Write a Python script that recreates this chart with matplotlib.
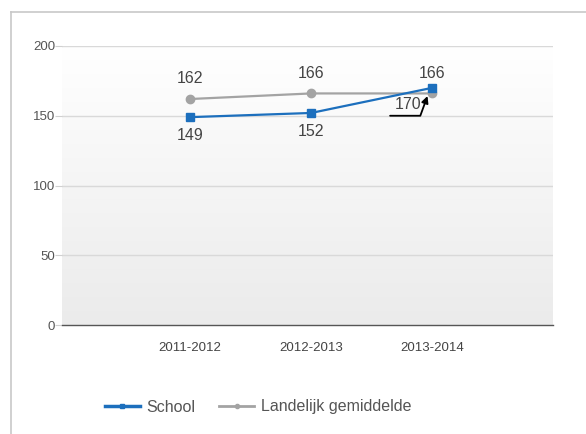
import matplotlib.pyplot as plt
import numpy as np
from matplotlib.lines import Line2D
from matplotlib.colors import LinearSegmentedColormap

plt.rcParams['font.family'] = ['Liberation Sans', 'DejaVu Sans']

jaren = ['2011-2012', '2012-2013', '2013-2014']
school = [149, 152, 170]
landelijk = [162, 166, 166]

blauw = '#1c6fbd'
grijs = '#a3a3a3'

fig = plt.figure(figsize=(5.86, 4.34), dpi=100)
ax = fig.add_axes([62/586, 1-325/434, (553-62)/586, (325-46)/434])

x = np.arange(len(jaren))

# achtergrond met verloop (boven wit, onder grijs)
grad = np.linspace(0, 1, 256).reshape(-1, 1)
cm = LinearSegmentedColormap.from_list('g', ['#ffffff', '#ebebeb'])
ax.imshow(grad, extent=(-1.06, 3.0, 0, 200), aspect='auto', origin='upper',
          cmap=cm, zorder=0)

for v in [50, 100, 150, 200]:
    ax.axhline(v, color='#d9d9d9', lw=1, zorder=1)

ax.plot(x, landelijk, color=grijs, lw=1.6, marker='o', ms=6, zorder=3)
ax.plot(x, school, color=blauw, lw=1.6, marker='s', ms=6, zorder=4)

fs = 11.5
for i in range(2):
    ax.text(x[i], landelijk[i] + 9, str(landelijk[i]), ha='center', va='bottom',
            fontsize=fs, color='#444444')
    ax.text(x[i], school[i] - 8, str(school[i]), ha='center', va='top',
            fontsize=fs, color='#444444')
ax.text(x[2], landelijk[2] + 9, str(landelijk[2]), ha='center', va='bottom',
        fontsize=fs, color='#444444')
ax.text(x[2] - 0.2, school[2] - 12, str(school[2]), ha='center', va='center',
        fontsize=fs, color='#444444', zorder=5)
ax.annotate('', xy=(x[2] - 0.03, school[2] - 4), xytext=(x[2] - 0.37, 150),
            arrowprops=dict(arrowstyle='-|>', color='black', lw=1.3,
                            connectionstyle='angle,angleA=0,angleB=70,rad=0'),
            zorder=6)

ax.set_xlim(-1.06, 3.0)
ax.set_ylim(0, 200)
ax.set_xticks(x)
ax.set_xticklabels(jaren, fontsize=9.5, color='#444444')
ax.set_yticks([0, 50, 100, 150, 200])
ax.tick_params(axis='y', length=5, color='#d0d0d0', labelsize=9.5, labelcolor='#555555', pad=0)
ax.tick_params(axis='x', length=0, pad=12)
for s in ['top', 'right', 'left']:
    ax.spines[s].set_visible(False)
ax.spines['bottom'].set_color('#555555')
ax.spines['bottom'].set_linewidth(1)

# kader
fig.add_artist(Line2D([11/586, 11/586], [0, 1-12/434], color='#c8c8c8', lw=1.2))
fig.add_artist(Line2D([11/586, 1], [1-12/434, 1-12/434], color='#c8c8c8', lw=1.2))

handles = [Line2D([], [], color=blauw, lw=2.5, marker='s', ms=3),
           Line2D([], [], color=grijs, lw=2, marker='o', ms=3)]
fig.legend(handles, ['School', 'Landelijk gemiddelde'], loc='center',
           bbox_to_anchor=(258/586, 1-407/434), ncol=2, frameon=False,
           fontsize=11.5, labelcolor='#555555', handlelength=2.2, columnspacing=1.5,
           handletextpad=0.4)

fig.savefig('out.png', dpi=100)
